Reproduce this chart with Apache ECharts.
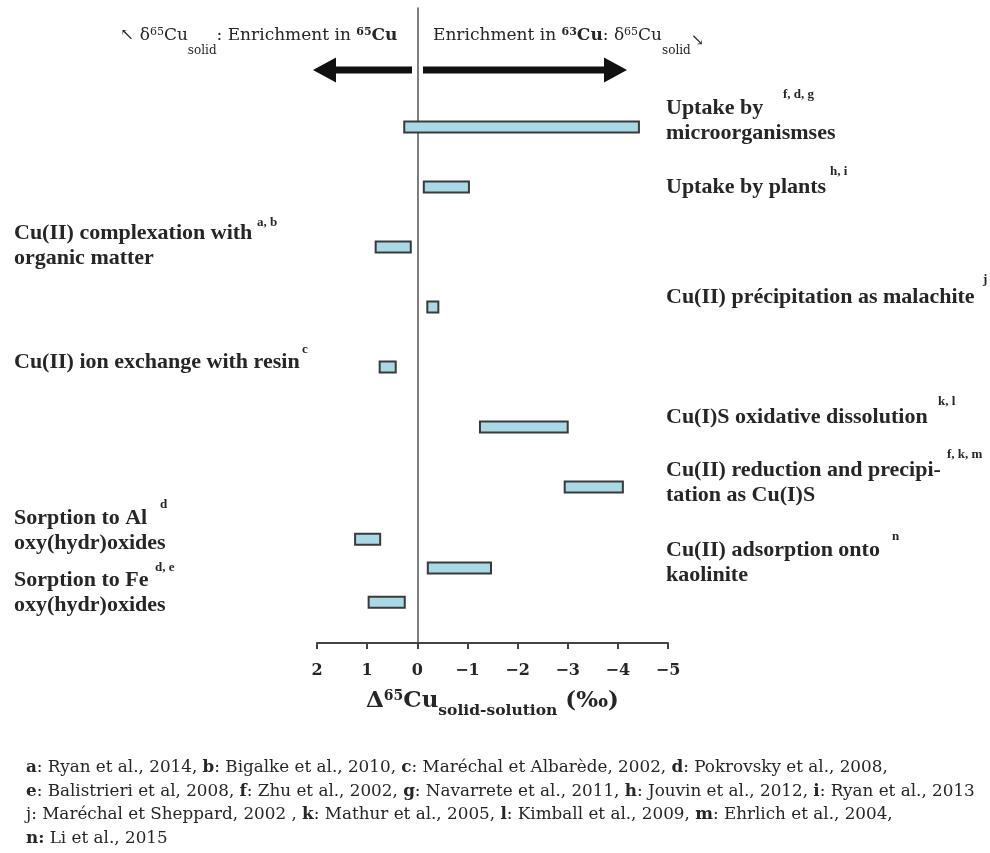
<!DOCTYPE html>
<html><head><meta charset="utf-8">
<script src="https://cdn.jsdelivr.net/npm/echarts@6/dist/echarts.min.js"></script>
<style>html,body{margin:0;padding:0;background:#fff}#c{width:990px;height:853px}</style>
</head><body><div id="c"></div>
<script>
// ---- data ----
const processes = [
  'Uptake by\nmicroorganismses',
  'Uptake by plants',
  'Cu(II) complexation with\norganic matter',
  'Cu(II) précipitation as malachite',
  'Cu(II) ion exchange with resin',
  'Cu(I)S oxidative dissolution',
  'Cu(II) reduction and precipi-\ntation as Cu(I)S',
  'Sorption to Al\noxy(hydr)oxides',
  'Cu(II) adsorption onto\nkaolinite',
  'Sorption to Fe\noxy(hydr)oxides'
];
const refs = ['f, d, g', 'h, i', 'a, b', 'j', 'c', 'k, l', 'f, k, m', 'd', 'n', 'd, e'];
const fromValues = [0.26, -0.13, 0.83, -0.20, 0.75, -1.25, -2.94, 1.24, -0.21, 0.97];
const toValues   = [-4.42, -1.03, 0.13, -0.42, 0.43, -3.00, -4.10, 0.74, -1.47, 0.25];
const rowPositions = [0, 1, 2, 3, 4, 5, 6, 6.87, 7.35, 7.92];
const xTickLabels = {'2':'2','1':'1','0':'0','-1':'\u22121','-2':'\u22122','-3':'\u22123','-4':'\u22124','-5':'\u22125'};
const footnotes = [
  '{b|a}: Ryan et al., 2014, {b|b}: Bigalke et al., 2010, {b|c}: Maréchal et Albarède, 2002, {b|d}: Pokrovsky et al., 2008,',
  '{b|e}: Balistrieri et al, 2008, {b|f}: Zhu et al., 2002, {b|g}: Navarrete et al., 2011, {b|h}: Jouvin et al., 2012, {b|i}: Ryan et al., 2013',
  'j: Maréchal et Sheppard, 2002 , {b|k}: Mathur et al., 2005, {b|l}: Kimball et al., 2009, {b|m}: Ehrlich et al., 2004,',
  '{b|n:} Li et al., 2015'
];
const leftHeader = '\u2196 \u03b4{sup|65}Cu{sub|solid}: Enrichment in {bsup|65}{b|Cu}';
const rightHeader = 'Enrichment in {bsup|63}{b|Cu}: \u03b4{sup|65}Cu{sub|solid}{arr|\u2198}';
const axisTitle = '{b|\u0394}{sup|65}{b|Cu}{sub|solid-solution}{b| (\u2030)}';

// ---- layout ----
const SERIF = '"Liberation Serif", "DejaVu Serif", serif';
const WIDE = '"DejaVu Serif", serif';
const TXT = '#262626';
const labelLayout = [
  {x:666, y:108, sx:783, sy:95},
  {x:666, y:187, sx:830, sy:172},
  {x:14,  y:233, sx:257, sy:223},
  {x:666, y:297, sx:983, sy:280},
  {x:14,  y:362, sx:302, sy:350},
  {x:666, y:417, sx:938, sy:402},
  {x:666, y:470, sx:947, sy:455},
  {x:14,  y:518, sx:160, sy:505},
  {x:666, y:550, sx:892, sy:537},
  {x:14,  y:580, sx:155, sy:568}
];

const data = processes.map((p, i) => [fromValues[i], toValues[i], rowPositions[i], p]);

const graphics = [];
processes.forEach((p, i) => {
  const L = labelLayout[i];
  graphics.push({type:'text', x:L.x, y:L.y - 12.5, silent:true,
    style:{text:p, font:'bold 22px ' + SERIF, lineHeight:25, verticalAlign:'top', align:'left', fill:TXT}});
  graphics.push({type:'text', x:L.sx, y:L.sy, silent:true,
    style:{text:refs[i], font:'bold 13px ' + SERIF, verticalAlign:'middle', align:'left', fill:TXT}});
});
const hdrRich = {
  sup:{fontSize:11, fontFamily:WIDE, fill:TXT, lineHeight:11, padding:[0,0,8,0]},
  bsup:{fontSize:11, fontWeight:'bold', fontFamily:WIDE, fill:TXT, lineHeight:11, padding:[0,0,8,0]},
  sub:{fontSize:12, fontFamily:WIDE, fill:TXT, lineHeight:12, padding:[30,0,0,0]},
  arr:{fontSize:16, fontFamily:WIDE, fill:TXT, lineHeight:16, padding:[10,0,0,0]},
  b:{fontSize:17, fontWeight:'bold', fontFamily:WIDE, fill:TXT}
};
graphics.push({type:'text', x:120, y:36, silent:true,
  style:{text:leftHeader, font:'17px ' + WIDE, fill:TXT, verticalAlign:'middle', align:'left', rich:hdrRich}});
graphics.push({type:'text', x:433, y:36, silent:true,
  style:{text:rightHeader, font:'17px ' + WIDE, fill:TXT, verticalAlign:'middle', align:'left', rich:hdrRich}});
// arrows
graphics.push({type:'polygon', silent:true, shape:{points:[[313,70],[336,57.5],[336,66.5],[412,66.5],[412,73.5],[336,73.5],[336,82.5]]}, style:{fill:'#111'}});
graphics.push({type:'polygon', silent:true, shape:{points:[[627,70],[604,57.5],[604,66.5],[423,66.5],[423,73.5],[604,73.5],[604,82.5]]}, style:{fill:'#111'}});
// footnotes
footnotes.forEach((f, i) => {
  graphics.push({type:'text', x:26, y:768 + i*23.5, silent:true,
    style:{text:f, font:'16.8px ' + WIDE, fill:TXT, verticalAlign:'middle', align:'left',
      rich:{b:{fontSize:16.8, fontWeight:'bold', fontFamily:WIDE, fill:TXT}}}});
});

const chart = echarts.init(document.getElementById('c'));
chart.setOption({
  backgroundColor:'#ffffff',
  animation:false,
  grid:{left:317, right:322, top:8, bottom:210, containLabel:false},
  xAxis:{
    type:'value', min:-5, max:2, interval:1, inverse:true, position:'bottom',
    axisLine:{show:true, onZero:false, lineStyle:{color:'#444', width:2}},
    axisTick:{show:true, length:6, lineStyle:{color:'#444', width:2}},
    splitLine:{show:false},
    axisLabel:{margin:20, fontFamily:WIDE, fontWeight:'bold', fontSize:16, color:TXT,
      formatter:v => xTickLabels[String(v)] ?? String(v)},
    name:axisTitle, nameLocation:'middle', nameGap:41,
    nameTextStyle:{fontFamily:WIDE, fontSize:22, fontWeight:'bold', color:TXT,
      rich:{
        b:{fontFamily:WIDE, fontSize:23, fontWeight:'bold', color:TXT, lineHeight:28},
        sup:{fontFamily:WIDE, fontSize:14, fontWeight:'bold', color:TXT, lineHeight:14, padding:[0,0,10,0]},
        sub:{fontFamily:WIDE, fontSize:15.5, fontWeight:'bold', color:TXT, lineHeight:15, padding:[19,0,0,0]}
      }}
  },
  yAxis:{
    type:'value', inverse:true, min:-1.983, max:8.6,
    axisLine:{show:true, onZero:true, lineStyle:{color:'#555', width:1.5}},
    axisTick:{show:false}, axisLabel:{show:false}, splitLine:{show:false}
  },
  series:[{
    type:'custom',
    data:data,
    encode:{x:[0,1], y:2},
    renderItem:(params, api) => {
      const a = api.coord([api.value(0), api.value(2)]);
      const b = api.coord([api.value(1), api.value(2)]);
      const h = 11;
      return {type:'rect',
        shape:{x:Math.min(a[0], b[0]), y:a[1] - h/2, width:Math.abs(b[0] - a[0]), height:h},
        style:{fill:'#a9d9e4', stroke:'#3a3a3a', lineWidth:2}};
    }
  }],
  graphic:{elements:graphics}
});
</script>
</body></html>
